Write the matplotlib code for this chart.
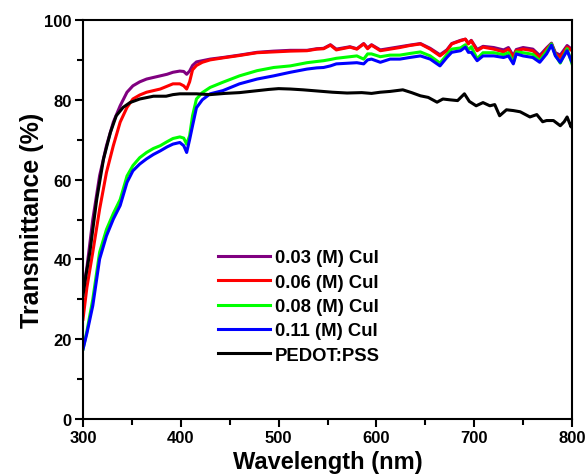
import numpy as np
import matplotlib
matplotlib.use('Agg')
import matplotlib.pyplot as plt
from matplotlib.ticker import MultipleLocator

plt.rcParams['font.family'] = ['Liberation Sans', 'DejaVu Sans']
plt.rcParams['font.weight'] = 'bold'

# wavelength grid shared by the CuI films (nm)
wl_cui = [300, 304, 310, 317, 324, 331, 338, 345, 351, 358, 365, 372, 379, 386, 392,
          399, 403, 406, 409, 412, 416, 422, 430, 443, 460, 478, 495, 512, 529, 539,
          546, 553, 559, 573, 580, 587, 591, 595, 604, 614, 624, 634, 645, 655, 665,
          672, 677, 686, 691, 694, 697, 703, 709, 720, 730, 735, 740, 743, 750, 760,
          767, 774, 779, 783, 788, 795, 800]

t_003 = [32, 38, 50, 61, 68.5, 74.4, 78.5, 81.9, 83.5, 84.5, 85.2, 85.6, 86, 86.4, 86.9,
         87.2, 87.1, 86.4, 87.2, 88.6, 89.5, 89.8, 90.2, 90.6, 91.2, 91.9, 92.2, 92.4, 92.4, 92.8,
         92.9, 93.8, 92.7, 93.3, 92.8, 94.1, 93, 93.8, 92.5, 92.9, 93.3, 93.7, 94.1, 92.9, 91.3,
         92.5, 94.1, 94.9, 95.2, 94.2, 94.9, 92.6, 93.4, 93.1, 92.5, 93.1, 91, 92.6, 93.1, 92.7,
         91.1, 93, 94.2, 91.8, 91.2, 93.6, 92.6]

t_006 = [25, 33, 41.8, 52.6, 61.8, 68.5, 74.4, 78.1, 80.2, 81.2, 81.9, 82.3, 82.7, 83.4, 84,
         84, 83.5, 82.7, 84.5, 87.5, 88.6, 89.4, 90, 90.5, 91.1, 91.8, 92, 92.2, 92.3, 92.7,
         92.8, 93.7, 92.5, 93.2, 92.7, 94, 92.8, 93.7, 92.3, 92.7, 93.1, 93.6, 94, 92.7, 91,
         92.3, 94, 94.8, 95.2, 94, 94.8, 92.3, 93.2, 92.7, 92, 92.7, 90.6, 92.3, 92.7, 92.3,
         90.6, 92.7, 94, 91.5, 90.6, 93.2, 92.3]

t_008 = [17.5, 22, 30, 41.8, 47.5, 51.5, 55, 60.9, 63.5, 65.5, 66.8, 67.8, 68.5, 69.5, 70.3,
         70.7, 70.4, 68.9, 71, 76, 80.2, 81.8, 83.1, 84.4, 86, 87.3, 88.1, 88.5, 89.3, 89.6,
         89.8, 90.1, 90.4, 90.8, 91, 90.2, 91.5, 91.5, 90.8, 91.2, 91.2, 91.6, 92, 91, 89.2,
         91.3, 92.7, 93, 93.8, 92.5, 93.3, 90.3, 91.8, 91.8, 91.3, 91.8, 89.3, 92, 91.8, 91.4,
         89.8, 92.2, 94, 91.2, 89.2, 92.8, 89]

t_011 = [17.5, 21.5, 28.4, 40.1, 45.9, 50.1, 53.5, 59.3, 62.2, 63.9, 65.2, 66.3, 67.2, 68.2, 68.9,
         69.3, 68.5, 66.8, 70, 73.5, 78, 80, 81.5, 82.3, 84, 85.2, 86, 86.9, 87.7, 88,
         88.1, 88.5, 89, 89.2, 89.3, 89, 90, 90.2, 89.4, 90.2, 90.2, 90.6, 91, 90.2, 88.5,
         90.6, 91.9, 92.3, 93.2, 91.9, 91.9, 89.8, 91, 91, 90.6, 91, 89, 91.5, 91, 90.6,
         89.4, 91.5, 93.7, 91, 89.4, 92.3, 89.4]

wl_pedot = [300, 303, 307, 314, 321, 328, 334, 341, 348, 358, 372, 385, 392, 399, 416,
            430, 445, 460, 475, 490, 500, 512, 525, 540, 555, 570, 585, 595, 604, 614,
            627, 636, 645, 653, 662, 668, 675, 683, 690, 695, 702, 709, 716, 721, 726,
            733, 740, 747, 757, 764, 770, 774, 781, 788, 792, 795, 799, 800]
t_pedot = [31, 36, 41.8, 55, 65.2, 71.8, 76, 78.1, 79.3, 80.2, 80.9, 80.9, 81.3, 81.5, 81.5,
           81.3, 81.6, 81.8, 82.2, 82.6, 82.8, 82.7, 82.5, 82.2, 81.9, 81.7, 81.8, 81.6, 81.9, 82.1,
           82.5, 81.8, 81, 80.6, 79.4, 80.2, 80, 79.8, 81.5, 79.6, 78.5, 79.3, 78.5, 78.8, 76,
           77.5, 77.3, 77, 75.7, 76.3, 74.5, 74.8, 74.8, 73.5, 74.5, 75.7, 73.2, 74]

series = [
    (wl_cui, t_003, '#800080', '0.03 (M) CuI'),
    (wl_cui, t_006, '#ff0000', '0.06 (M) CuI'),
    (wl_cui, t_008, '#00ff00', '0.08 (M) CuI'),
    (wl_cui, t_011, '#0000ff', '0.11 (M) CuI'),
    (wl_pedot, t_pedot, '#000000', 'PEDOT:PSS'),
]

fig = plt.figure(figsize=(5.86, 4.77), dpi=100)
ax = fig.add_axes([83 / 586, 57 / 477, 489 / 586, 399 / 477])

for x, y, c, lab in series:
    ax.plot(x, y, color=c, lw=2.2, label=lab)

ax.set_xlim(300, 800)
ax.set_ylim(0, 100)
ax.xaxis.set_major_locator(MultipleLocator(100))
ax.xaxis.set_minor_locator(MultipleLocator(50))
ax.yaxis.set_major_locator(MultipleLocator(20))
ax.yaxis.set_minor_locator(MultipleLocator(10))
ax.tick_params(which='major', direction='out', length=6, width=1.5, labelsize=12, pad=2)
ax.tick_params(which='minor', direction='out', length=4, width=1.5)
for sp in ax.spines.values():
    sp.set_linewidth(1.5)

ax.set_xlabel('Wavelength (nm)', fontsize=17, fontweight='bold', labelpad=3.5)
ax.set_ylabel('Transmittance (%)', fontsize=18, fontweight='bold', labelpad=0)

leg = ax.legend(loc='upper left', bbox_to_anchor=(0.276, 0.425), frameon=False,
                fontsize=13.3, handlelength=2.8, handletextpad=0.3, labelspacing=0.395,
                borderpad=0, borderaxespad=0)
for line in leg.get_lines():
    line.set_linewidth(2.2)

fig.savefig('out.png', dpi=100)
